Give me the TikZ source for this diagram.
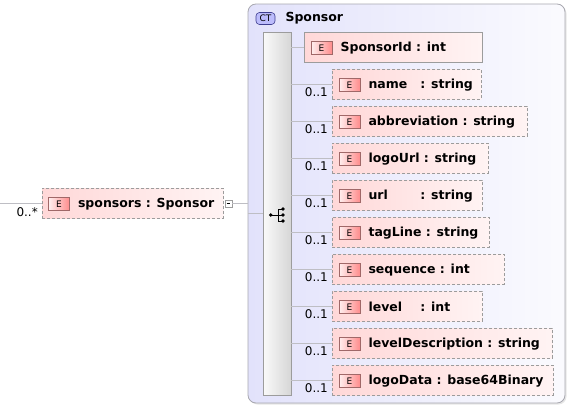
\documentclass[tikz,border=0pt]{standalone}
\usepackage{fontspec}
\setmainfont{DejaVu Sans}
\usetikzlibrary{positioning, shadows}

\definecolor{ctlav}{HTML}{E2E2FB}
\definecolor{ctedge}{HTML}{A8A8B0}
\definecolor{linegray}{HTML}{BEBEC4}
\definecolor{boxgray}{HTML}{9C9C9C}
\definecolor{elpink}{HTML}{FFD8D8}
\definecolor{badgered}{HTML}{A06868}

\begin{document}
\begin{tikzpicture}[x=1pt, y=-1pt,
	every node/.style={font=\fontsize{12}{14}\selectfont, inner sep=0pt},
	conn/.style={draw=linegray, line width=0.8pt},
	ctbox/.style={draw=ctedge, line width=0.8pt, rounded corners=8pt, left color=ctlav, right color=ctlav!15!white,
		drop shadow={shadow xshift=1.5pt, shadow yshift=-1.5pt, opacity=0.2}},
	ctbadge/.style={draw=gray!60!blue!80!black, line width=0.6pt, rounded corners=3.5pt, fill=ctlav!80!blue!90!white,
		minimum width=19pt, minimum height=12pt, font=\fontsize{9}{10}\selectfont},
	seqbar/.style={draw=boxgray, line width=0.8pt, left color=gray!4, right color=gray!32},
	elbox/.style={draw=boxgray, line width=0.8pt, dash pattern=on 3pt off 2pt, left color=elpink, right color=elpink!30!white,
		minimum height=30pt, anchor=west},
	reqbox/.style={elbox, solid},
	ebadge/.style={draw=badgered, line width=0.7pt, left color=red!6, right color=red!45, minimum width=21pt, minimum height=13pt,
		font=\fontsize{9}{10}\selectfont},
	eltext/.style={font=\fontsize{12.5}{14}\bfseries},
	card/.style={anchor=north east, inner sep=1pt}]

\useasboundingbox (0,0) rectangle (579,407);

\node[ctbox, minimum width=317pt, minimum height=399pt] (ct) at (406.5,203.5) {};
\node[ctbadge] (ctb) at (265.5,18.5) {CT};
\node[eltext, right=10pt of ctb] (ttl) {Sponsor};

\node[seqbar, minimum width=28pt, minimum height=363pt] (seq) at (277,213.5) {};
\begin{scope}[shift={(seq.center)}, line width=0.7pt]
	\draw (-6.3,1.5) -- (1,1.5);
	\draw (1,-4.5) -- (1,7.5);
	\foreach \d in {-4.5,1.5,7.5}
		\draw (1,\d) -- (6,\d);
	\fill (-6.3,1.5) circle (1.9pt);
	\foreach \d in {-4.5,1.5,7.5}
		\fill (6,\d) circle (1.9pt);
\end{scope}

\node[elbox, minimum width=181pt] (sp) at (42,203) {};
\node[ebadge] (spb) at ([xshift=17pt, yshift=-1pt]sp.west) {E};
\node[eltext, right=8pt of spb] (spt) {sponsors : Sponsor};
\node[card] (spm) at ([xshift=-3pt, yshift=-3.5pt]sp.west) {0..*};
\coordinate (in) at (0,203);
\draw[conn] (in) -- (sp.west);

\node[draw=boxgray, fill=white, line width=0.6pt, minimum size=7pt] (mn) at (228.5,203.5) {\rule{3.6pt}{0.6pt}};
\draw[conn] (mn.east) -- (mn.east -| ct.west);
\draw[conn] (ct.west |- seq.west) -- (seq.west);

\node[reqbox, minimum width=178pt] (c0) at (304,47) {};
\node[ebadge] (e0) at ([xshift=17.5pt, yshift=-1pt]c0.west) {E};
\node[eltext, right=8pt of e0] (t0) {SponsorId : int};
\draw[conn] (seq.east |- c0.west) -- (c0.west);

\foreach \y/\w/\lbl [count=\i] in {
	84/149/{\makebox[47.5pt][l]{name} : string},
	121/195/{abbreviation : string},
	158/156/{logoUrl : string},
	195/150/{\makebox[47.5pt][l]{url} : string},
	232/157/{tagLine : string},
	269/172/{sequence : int},
	306/150/{\makebox[47.5pt][l]{level} : int},
	343/220/{levelDescription : string},
	380/221/{logoData : base64Binary}}
{
	\node[elbox, minimum width=\w pt] (c\i) at (332,\y) {};
	\node[ebadge] (e\i) at ([xshift=17.5pt, yshift=-1pt]c\i.west) {E};
	\node[eltext, right=8pt of e\i] (t\i) {\lbl};
	\node[card] (m\i) at ([xshift=-3pt, yshift=-2pt]c\i.west) {0..1};
	\draw[conn] (seq.east |- c\i.west) -- (c\i.west);
}
\end{tikzpicture}
\end{document}
